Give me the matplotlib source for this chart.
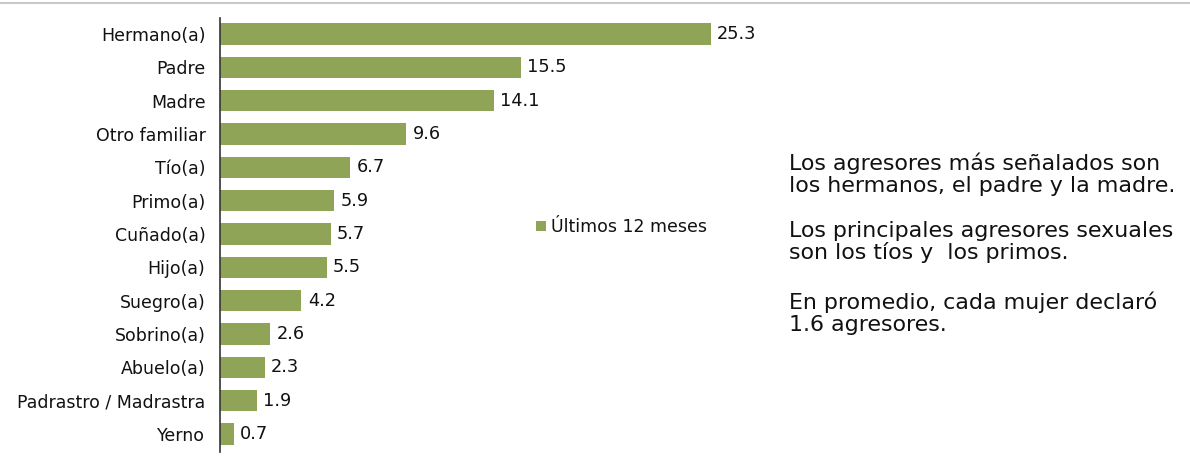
import matplotlib
matplotlib.use("Agg")
import matplotlib.pyplot as plt
from matplotlib.lines import Line2D

categories = ["Hermano(a)", "Padre", "Madre", "Otro familiar", "Tío(a)", "Primo(a)",
              "Cuñado(a)", "Hijo(a)", "Suegro(a)", "Sobrino(a)", "Abuelo(a)",
              "Padrastro / Madrastra", "Yerno"]
values = [25.3, 15.5, 14.1, 9.6, 6.7, 5.9, 5.7, 5.5, 4.2, 2.6, 2.3, 1.9, 0.7]
series_name = "Últimos 12 meses"
notes = [
    ["Los agresores más señalados son", "los hermanos, el padre y la madre."],
    ["Los principales agresores sexuales", "son los tíos y  los primos."],
    ["En promedio, cada mujer declaró", "1.6 agresores."],
]

plt.rcParams['font.family'] = ['DejaVu Sans']
W, H = 1190, 459
fig = plt.figure(figsize=(W / 100, H / 100), dpi=100)
ax = fig.add_axes([220 / W, 7 / H, 1 - 220 / W, 434 / H])

bar_color = '#8FA457'
text_color = '#111111'
pos = list(range(len(categories)))
bars = ax.barh(pos, values, height=0.64, color=bar_color, label=series_name)
ax.set_xlim(0, 50)
ax.set_ylim(12.54, -0.48)
ax.set_yticks(pos)
ax.set_yticklabels(categories, fontsize=12.5, color=text_color)
ax.tick_params(axis='y', length=0, pad=10.5)
ax.set_xticks([])
for s in ['top', 'right', 'bottom']:
    ax.spines[s].set_visible(False)
ax.spines['left'].set_color('#333333')
ax.spines['left'].set_linewidth(1.2)

for p, v in zip(pos, values):
    ax.text(v + 0.33, p, f"{v:.1f}", va='center', ha='left', fontsize=12.8, color=text_color)

leg = ax.legend(handles=[bars], loc='center left', bbox_to_anchor=(536 / W, 1 - 227 / H),
                bbox_transform=fig.transFigure, frameon=False, fontsize=12.5,
                handlelength=0.55, handleheight=0.55, handletextpad=0.3, borderpad=0, borderaxespad=0)
for t in leg.get_texts():
    t.set_color(text_color)

baselines = [[170, 192], [237, 259], [309, 331]]
for para, bl in zip(notes, baselines):
    for line, y in zip(para, bl):
        fig.text(789 / W, 1 - y / H, line, fontsize=15.9, color=text_color,
                 ha='left', va='baseline')

fig.add_artist(Line2D([0, 1], [1 - 3 / H, 1 - 3 / H], transform=fig.transFigure,
                      color='#c8c8c8', linewidth=1.5))

fig.savefig("out.png", dpi=100)
